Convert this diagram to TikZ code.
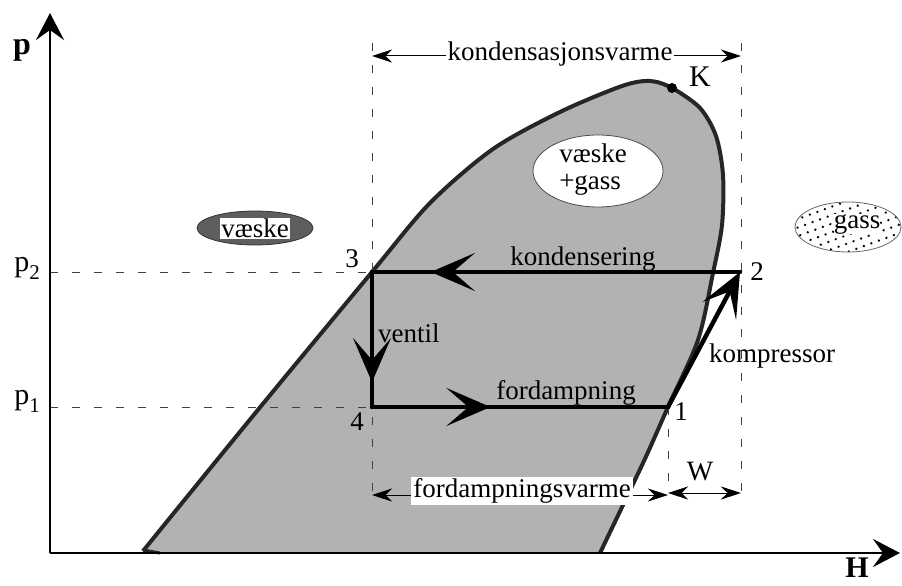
\documentclass[tikz,border=0pt]{standalone}
\usepackage{fontspec}
\setmainfont{Liberation Serif}
\usetikzlibrary{arrows.meta,decorations.markings,patterns.meta,shapes.geometric}
\definecolor{domegray}{HTML}{B2B2B2}
\definecolor{domeedge}{HTML}{262626}
\definecolor{darkell}{HTML}{5E5E5E}
\begin{document}
\begin{tikzpicture}[x=1pt,y=-1pt,
  lbl/.style={font=\fontsize{27}{30}\selectfont, inner sep=1pt},
  boldlbl/.style={font=\fontsize{32}{34}\selectfont\bfseries, inner sep=1pt},
  whitelbl/.style={lbl, fill=white, inner sep=2pt},
  dimline/.style={line width=1pt, {Stealth[length=20pt,width=13pt]}-{Stealth[length=20pt,width=13pt]}},
  guide/.style={line width=1pt, dash pattern=on 8pt off 14pt, black!75},
  cyc/.style={line width=4.5pt, black, line cap=round},
  midarrow/.style={postaction={decorate}, decoration={markings, mark=at position #1 with {\arrow{Stealth[length=44pt,width=38pt,inset=22pt]}}}},
  axis/.style={line width=2.5pt, black}
]
\useasboundingbox (0,0) rectangle (902,586);

% two-phase dome
\def\domepts{(143,551) (257,411) (372,272) (430,203) (493,149) (560,112) (622,86) (650,81) (672,88) (700,108) (716,136) (723,175) (722,225) (713,273) (698,340) (668,407) (643,463) (600,553)}
\fill[domegray] plot[smooth, tension=0.5] coordinates {\domepts} -- (143,553) -- cycle;
\draw[line width=4pt, domeedge, line join=round] plot[smooth, tension=0.5] coordinates {\domepts};
\draw[line width=3pt, domeedge] (143,550) -- (160,553);

% critical point
\fill[black] (672,88) circle (5pt);
\node[lbl, font=\fontsize{30}{32}\selectfont] (K) at (700,77) {K};

% key points
\coordinate (n1) at (668,407);
\coordinate (n2) at (740,272);
\coordinate (n3) at (372,272);
\coordinate (n4) at (372,407);

% guide (dashed) lines
\coordinate (gL) at (372,43);
\coordinate (gLb) at (372,495);
\coordinate (gR) at (741,43);
\coordinate (gRb) at (741,495);
\coordinate (gMb) at (668,495);
\coordinate (ax2) at (50,272);
\coordinate (ax1) at (50,407);
\draw[guide] (gL) -- (gLb);
\draw[guide] (gR) -- (gRb);
\draw[guide] (n1) -- (gMb);
\draw[guide] (ax2) -- (n3);
\draw[guide] (ax1) -- (n4);

% phase ellipses
\node[ellipse, draw=black!80, line width=0.8pt, fill=darkell, minimum width=116pt, minimum height=34pt] (vaeskeE) at (255,228) {};
\node[whitelbl, inner sep=1pt] (vaeskeT) at (vaeskeE.center) {væske};
\node[ellipse, draw=black!70, line width=0.8pt, fill=white, minimum width=130pt, minimum height=72pt] (vgE) at (598,171) {};
\node[lbl, align=left] (vgT) at (593,170) {væske\\[-3pt]+gass};
\node[ellipse, draw=black!60, line width=0.8pt, pattern={Dots[distance=8pt, radius=1.3pt, angle=20]}, minimum width=106pt, minimum height=50pt] (gassE) at (848,227) {};
\node[lbl, fill=white, inner sep=0pt] (gassT) at (857,224) {gass};

% cycle
\draw[cyc, midarrow=0.84] (n2) -- (n3);
\draw[cyc, midarrow=0.815] (n3) -- (n4);
\draw[cyc, midarrow=0.4] (n4) -- (n1);
\draw[cyc, -{Stealth[length=44pt,width=38pt,inset=22pt]}] (n1) -- (n2);

% point labels
\node[lbl] (l3) at (352,259) {3};
\node[lbl] (l2) at (757,272) {2};
\node[lbl] (l1) at (681,412) {1};
\node[lbl] (l4) at (357,422) {4};

% process labels
\node[lbl, anchor=base] (tK) at (583,265) {kondensering};
\node[lbl, anchor=base west] (tV) at (377,342) {ventil};
\node[lbl, anchor=base] (tF) at (566,399) {fordampning};
\node[lbl, anchor=base west] (tC) at (708,362) {kompressor};

% dimension arrows
\coordinate (kL) at (372,56);
\coordinate (kR) at (741,56);
\draw[dimline] (kL) -- (kR);
\node[whitelbl] (tKV) at (560,54) {kondensasjonsvarme};
\coordinate (fL) at (372,495);
\coordinate (fR) at (668,495);
\coordinate (wR) at (741,493);
\coordinate (wL) at (668,493);
\draw[dimline] (fL) -- (fR);
\node[whitelbl] (tFV) at (522,491) {fordampningsvarme};
\draw[dimline] (wL) -- (wR);
\node[lbl, font=\fontsize{28}{30}\selectfont] (tW) at (700,472) {W};

% axes
\coordinate (O) at (50,553);
\coordinate (ytip) at (50,13);
\coordinate (xtip) at (900,553);
\draw[axis, -{Stealth[length=27pt,width=28pt,inset=10pt]}] (O) -- (ytip);
\draw[axis, -{Stealth[length=27pt,width=28pt,inset=10pt]}] (O) -- (xtip);
\node[boldlbl] (pl) at (22,50) {p};
\node[boldlbl, font=\fontsize{30}{32}\selectfont\bfseries] (Hl) at (857,568) {H};
\node[lbl, font=\fontsize{30}{32}\selectfont] (p2) at (27,268) {p\raisebox{-8pt}{\fontsize{21}{21}\selectfont 2}};
\node[lbl, font=\fontsize{30}{32}\selectfont] (p1) at (27,401) {p\raisebox{-8pt}{\fontsize{21}{21}\selectfont 1}};
\end{tikzpicture}
\end{document}
